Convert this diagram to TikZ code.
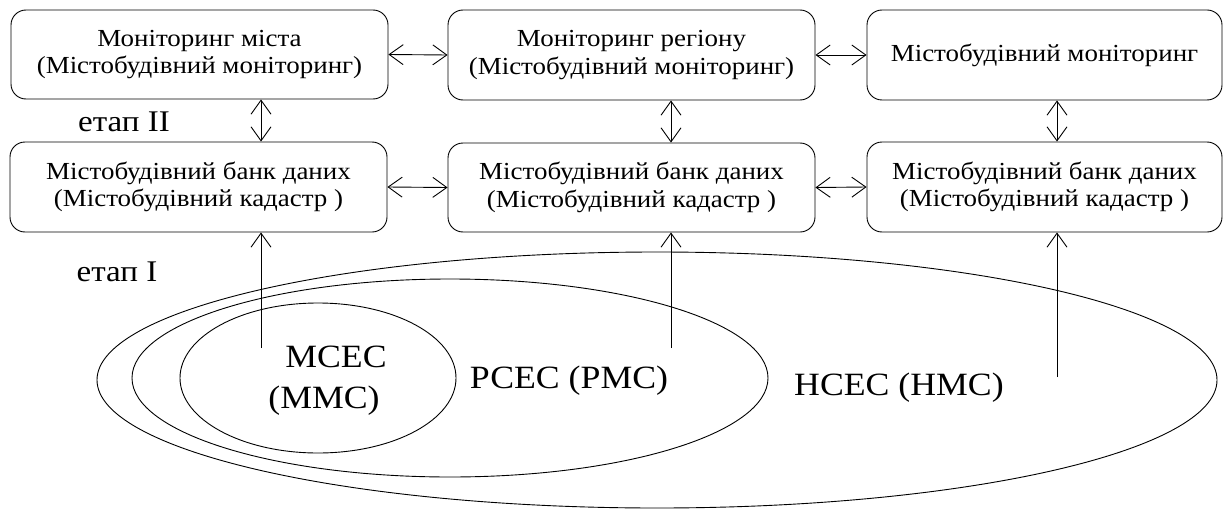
\documentclass[tikz,border=0pt]{standalone}
\usepackage{fontspec}
\setmainfont{Liberation Serif}[FakeStretch=1.1]
\usetikzlibrary{arrows.meta,calc}

\begin{document}
\begin{tikzpicture}[x=1pt,y=-1pt,
  box/.style={draw, rounded corners=15pt, line width=0.9pt, inner sep=0pt,
    align=center, font=\fontsize{24.5}{27.5}\selectfont},
  link/.style={line width=0.9pt, {Straight Barb[length=14pt,width=20pt]}-{Straight Barb[length=14pt,width=20pt]}},
  up/.style={line width=0.9pt, -{Straight Barb[length=14pt,width=20pt]}},
  ring/.style={line width=0.9pt},
  stage/.style={inner sep=0pt, font=\fontsize{30}{32}\selectfont},
  system/.style={inner sep=0pt, align=center, font=\fontsize{32.5}{41}\selectfont}]
\useasboundingbox (0,0) rectangle (1225,511);

% upper row: monitoring
\node[box, minimum width=377pt, minimum height=89pt] (b1) at (199.5,54.5)
  {Моніторинг міста\\(Містобудівний моніторинг)};
\node[box, minimum width=367pt, minimum height=90pt] (b2) at (631.5,55)
  {Моніторинг регіону\\(Містобудівний моніторинг)};
\node[box, minimum width=355pt, minimum height=90pt] (b3) at (1044.5,55)
  {Містобудівний моніторинг};

% lower row: data banks
\node[box, minimum width=377pt, minimum height=90pt] (b4) at (198.5,187)
  {Містобудівний банк даних\\(Містобудівний кадастр )};
\node[box, minimum width=367pt, minimum height=89pt] (b5) at (631.5,187.5)
  {Містобудівний банк даних\\(Містобудівний кадастр )};
\node[box, minimum width=355pt, minimum height=90pt] (b6) at (1044.5,187)
  {Містобудівний банк даних\\(Містобудівний кадастр )};

% stage labels
\node[stage] (s2) at (124,122) {етап II};
\node[stage] (s1) at (117,272) {етап I};

% nested systems
\draw[ring] (657,380) ellipse [x radius=560pt, y radius=128pt];
\draw[ring] (450,378) ellipse [x radius=318pt, y radius=99pt];
\draw[ring] (318,378) ellipse [x radius=138pt, y radius=75pt];
\node[system] (mcec) at (324,381) {\hspace*{24pt}МСЕС\\(ММС)};
\node[system] (pcec) at (569,381) {РСЕС (РМС)};
\node[system] (hcec) at (899,388) {НСЕС (НМС)};

% feet of the upward links
\coordinate (f1) at (261,348);
\coordinate (f2) at (671,348);
\coordinate (f3) at (1057,377);

\draw[up] (f1) -- (f1 |- b4.south);
\draw[up] (f2) -- (f2 |- b5.south);
\draw[up] (f3) -- (f3 |- b6.south);

% vertical two-way links
\draw[link] (b1.south -| f1) -- (b4.north -| f1);
\draw[link] (b2.south -| f2) -- (b5.north -| f2);
\draw[link] (b3.south -| f3) -- (b6.north -| f3);

% horizontal two-way links
\draw[link] (b1.east) -- (b2.west);
\draw[link] (b2.east) -- (b3.west);
\draw[link] (b4.east) -- (b5.west);
\draw[link] (b5.east) -- (b6.west);
\end{tikzpicture}
\end{document}
